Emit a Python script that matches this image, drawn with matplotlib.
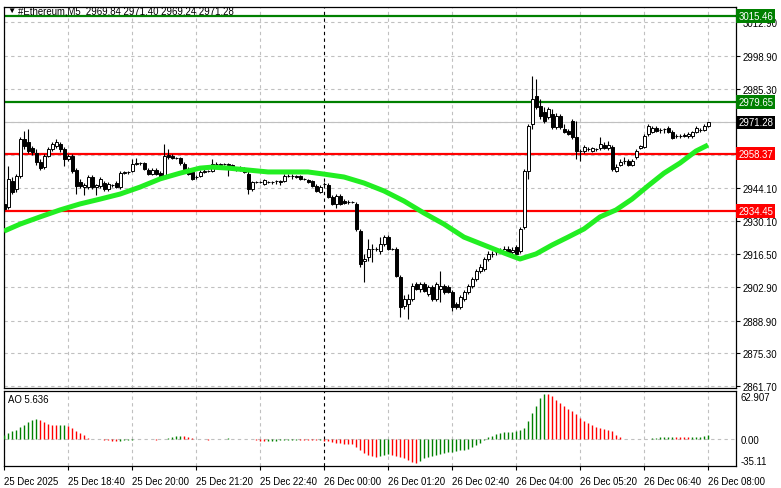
import numpy as np
import matplotlib
matplotlib.use("Agg")
import matplotlib.pyplot as plt

#========= Fonts ===========
plt.rcParams['font.family'] = ['Liberation Sans', 'DejaVu Sans']
FS = 6.9

#========= Data (5 min candles, #Ethereum M5) ===========
opens = [
2937.4, 2936.1, 2946.9, 2943.6, 2949.0, 2964.4, 2963.1, 2960.6, 2958.6, 2954.8,
2952.7, 2957.3, 2960.2, 2961.5, 2962.3, 2960.2, 2956.1, 2957.3, 2951.5, 2946.5,
2944.4, 2944.4, 2948.6, 2944.4, 2944.9, 2946.1, 2943.6, 2945.3, 2946.1, 2944.4,
2950.2, 2950.7, 2951.1, 2954.0, 2954.4, 2954.4, 2951.5, 2949.8, 2951.5, 2950.2,
2948.6, 2957.7, 2957.3, 2956.5, 2956.5, 2954.0, 2951.9, 2950.7, 2948.6, 2949.0,
2950.7, 2951.1, 2951.1, 2954.0, 2953.6, 2954.0, 2954.0, 2953.6, 2951.9, 2952.3,
2951.9, 2949.8, 2943.6, 2946.5, 2946.5, 2945.7, 2946.5, 2946.5, 2946.9, 2946.9,
2946.9, 2949.0, 2949.0, 2949.0, 2949.0, 2947.8, 2947.3, 2946.9, 2944.9, 2942.3,
2945.7, 2945.3, 2940.3, 2937.4, 2940.7, 2938.6, 2938.2, 2938.2, 2937.4, 2926.1,
2913.7, 2915.3, 2918.6, 2918.6, 2917.8, 2920.7, 2923.6, 2918.6, 2918.6, 2907.0,
2894.9, 2895.8, 2897.9, 2904.1, 2902.0, 2904.1, 2899.9, 2902.9, 2897.9, 2902.0,
2903.3, 2902.9, 2900.8, 2895.8, 2894.5, 2897.9, 2900.8, 2903.3, 2906.2, 2909.5,
2910.3, 2914.5, 2916.6, 2917.4, 2917.8, 2917.8, 2918.6, 2917.4, 2919.5, 2917.8,
2927.8, 2951.1, 2970.6, 2982.3, 2978.1, 2975.6, 2973.5, 2974.8, 2969.4, 2973.9,
2968.5, 2967.7, 2971.9, 2965.2, 2959.4, 2959.4, 2960.2, 2959.4, 2960.2, 2960.6,
2961.9, 2960.6, 2961.1, 2951.1, 2953.6, 2955.2, 2955.2, 2953.6, 2956.9, 2960.6,
2961.1, 2966.5, 2967.3, 2969.0, 2968.1, 2968.5, 2969.0, 2967.3, 2965.6, 2965.6,
2966.0, 2965.6, 2965.6, 2967.3, 2968.1, 2968.1, 2969.84]

highs = [
2939.4, 2953.2, 2948.6, 2949.8, 2965.2, 2967.7, 2968.5, 2961.5, 2960.2, 2956.1,
2958.2, 2961.1, 2963.1, 2964.4, 2963.1, 2961.1, 2958.2, 2958.2, 2952.3, 2947.8,
2946.1, 2949.4, 2949.4, 2945.7, 2948.6, 2946.9, 2946.5, 2945.7, 2946.9, 2951.1,
2951.1, 2951.1, 2956.1, 2956.5, 2954.8, 2954.8, 2952.3, 2952.3, 2952.3, 2951.1,
2962.3, 2960.2, 2958.2, 2956.9, 2956.9, 2954.8, 2952.7, 2951.5, 2949.4, 2951.5,
2951.9, 2951.5, 2956.1, 2954.8, 2954.4, 2954.4, 2954.4, 2954.0, 2952.7, 2953.2,
2952.7, 2951.1, 2946.9, 2946.9, 2946.9, 2947.8, 2946.9, 2946.9, 2947.3, 2947.3,
2949.8, 2949.8, 2949.8, 2949.4, 2949.4, 2948.2, 2947.8, 2947.3, 2945.7, 2945.3,
2946.5, 2946.1, 2941.1, 2941.5, 2941.5, 2939.4, 2939.0, 2938.6, 2938.2, 2927.0,
2916.6, 2922.8, 2920.7, 2919.5, 2923.6, 2924.5, 2924.5, 2919.1, 2919.5, 2907.8,
2899.5, 2899.9, 2904.5, 2904.9, 2904.9, 2904.9, 2903.7, 2903.7, 2904.9, 2909.5,
2904.1, 2903.7, 2901.6, 2896.6, 2899.5, 2901.6, 2904.1, 2907.0, 2910.3, 2912.4,
2915.3, 2917.8, 2917.8, 2918.7, 2919.1, 2919.9, 2919.9, 2919.5, 2920.3, 2927.8,
2951.9, 2970.6, 2990.6, 2989.3, 2981.0, 2977.7, 2977.7, 2976.9, 2975.2, 2974.8,
2970.6, 2968.5, 2972.7, 2971.9, 2960.2, 2961.9, 2961.1, 2961.1, 2960.6, 2965.2,
2963.1, 2963.5, 2961.9, 2954.0, 2956.1, 2956.9, 2956.1, 2956.1, 2960.2, 2961.9,
2966.5, 2970.6, 2969.8, 2969.8, 2969.0, 2969.0, 2969.8, 2968.1, 2966.5, 2966.5,
2966.9, 2967.3, 2967.7, 2969.8, 2969.0, 2970.6, 2971.40]

lows = [
2933.6, 2935.3, 2941.5, 2942.3, 2948.2, 2960.2, 2958.6, 2957.7, 2953.6, 2951.5,
2951.9, 2956.9, 2959.4, 2960.6, 2959.0, 2953.2, 2955.2, 2950.2, 2941.5, 2944.0,
2941.1, 2943.6, 2943.6, 2941.1, 2944.0, 2942.8, 2942.8, 2944.4, 2944.0, 2943.6,
2949.8, 2949.8, 2950.7, 2953.6, 2953.6, 2951.5, 2949.4, 2949.4, 2949.4, 2947.8,
2948.2, 2956.1, 2956.1, 2956.1, 2953.6, 2951.5, 2949.4, 2947.3, 2947.8, 2948.6,
2950.2, 2950.7, 2950.7, 2953.6, 2953.2, 2953.6, 2949.0, 2951.5, 2951.1, 2951.1,
2950.2, 2941.5, 2942.8, 2946.1, 2946.1, 2945.3, 2946.1, 2945.7, 2945.7, 2945.3,
2946.5, 2948.6, 2947.8, 2948.2, 2947.3, 2947.3, 2946.1, 2944.4, 2942.3, 2941.9,
2944.9, 2939.8, 2936.9, 2935.7, 2936.9, 2937.4, 2937.4, 2937.8, 2926.1, 2911.2,
2905.0, 2913.7, 2913.2, 2917.8, 2916.6, 2919.9, 2918.2, 2918.2, 2907.0, 2890.4,
2893.7, 2889.5, 2897.0, 2901.6, 2900.8, 2900.8, 2899.1, 2897.0, 2897.0, 2896.6,
2899.9, 2900.4, 2892.9, 2893.7, 2893.7, 2897.0, 2899.9, 2902.4, 2905.3, 2908.7,
2909.5, 2913.7, 2915.3, 2916.2, 2917.0, 2917.0, 2917.0, 2916.6, 2916.2, 2917.0,
2927.0, 2947.8, 2968.5, 2976.9, 2972.7, 2971.0, 2972.7, 2968.5, 2968.5, 2968.5,
2966.9, 2966.0, 2964.4, 2956.1, 2955.2, 2958.6, 2959.4, 2959.0, 2959.4, 2959.8,
2960.2, 2959.8, 2951.1, 2950.7, 2953.2, 2954.0, 2953.2, 2953.2, 2956.1, 2960.2,
2960.6, 2965.6, 2966.9, 2967.3, 2966.9, 2966.9, 2966.9, 2964.4, 2964.8, 2964.8,
2965.2, 2964.8, 2964.8, 2966.9, 2967.3, 2967.7, 2969.24]

closes = [
2935.3, 2947.8, 2942.3, 2949.0, 2964.4, 2961.5, 2959.4, 2959.0, 2954.8, 2952.3,
2957.3, 2960.2, 2962.3, 2963.1, 2960.2, 2956.1, 2957.3, 2951.1, 2944.9, 2944.9,
2945.3, 2948.6, 2944.4, 2945.3, 2947.8, 2943.6, 2945.7, 2945.2, 2944.4, 2950.2,
2950.7, 2950.6, 2954.0, 2954.4, 2954.3, 2951.9, 2949.8, 2951.5, 2949.8, 2948.6,
2957.3, 2956.9, 2956.5, 2956.4, 2954.4, 2951.9, 2949.8, 2947.8, 2948.5, 2950.7,
2951.1, 2951.0, 2954.0, 2953.9, 2954.0, 2953.9, 2953.6, 2951.9, 2952.3, 2951.9,
2950.7, 2943.6, 2946.5, 2946.4, 2946.4, 2947.3, 2946.4, 2946.4, 2946.8, 2946.5,
2949.0, 2948.9, 2948.9, 2948.6, 2947.8, 2947.7, 2946.5, 2944.9, 2942.8, 2944.4,
2945.6, 2940.3, 2937.4, 2940.7, 2937.4, 2937.8, 2938.1, 2938.1, 2927.0, 2912.4,
2914.5, 2918.6, 2918.5, 2918.5, 2920.7, 2923.6, 2918.6, 2918.5, 2907.4, 2894.5,
2897.9, 2897.8, 2903.3, 2902.0, 2904.1, 2901.2, 2902.9, 2897.9, 2904.1, 2903.3,
2900.8, 2900.8, 2894.5, 2894.5, 2898.7, 2900.8, 2903.3, 2906.2, 2909.5, 2911.2,
2914.5, 2916.6, 2916.5, 2917.3, 2918.2, 2918.6, 2917.4, 2918.2, 2916.6, 2927.0,
2951.1, 2969.8, 2981.0, 2977.7, 2974.0, 2971.9, 2976.9, 2969.4, 2973.9, 2969.4,
2967.3, 2966.5, 2965.2, 2959.4, 2959.3, 2961.1, 2960.1, 2960.6, 2960.1, 2962.3,
2960.6, 2961.9, 2951.9, 2952.7, 2954.8, 2955.1, 2953.6, 2955.2, 2959.4, 2961.5,
2965.6, 2969.8, 2969.0, 2967.7, 2968.0, 2968.4, 2967.3, 2964.8, 2965.5, 2965.5,
2965.6, 2966.5, 2967.3, 2969.0, 2968.0, 2969.8, 2971.28]

# moving average (bar index, value)
ma_idx = [0, 4, 9, 14, 19, 24, 29, 34, 39, 44, 49, 52, 56, 61, 66, 72, 76, 80, 85, 90,
          95, 100, 105, 110, 115, 120, 125, 129, 133, 137, 141, 145, 149, 153, 157, 161,
          165, 169, 173, 176]
ma_val = [2926.1, 2929.0, 2932.0, 2934.9, 2937.4, 2939.4, 2941.5, 2944.4, 2947.8, 2950.2,
          2952.3, 2952.7, 2952.3, 2951.5, 2950.7, 2950.7, 2950.7, 2949.8, 2948.6, 2946.1,
          2942.8, 2938.6, 2933.6, 2929.0, 2923.6, 2920.3, 2917.0, 2914.5, 2916.6, 2920.3,
          2923.6, 2927.0, 2932.0, 2934.9, 2939.4, 2944.9, 2950.2, 2954.4, 2959.4, 2961.9]

# Awesome Oscillator
ao = [
6.1, 9.5, 11.8, 13.2, 17.0, 20.3, 23.7, 26.0, 27.4, 26.0,
23.7, 21.3, 20.3, 19.9, 20.0, 20.2, 18.0, 15.6, 11.8, 9.5,
6.1, 2.4, 1.0, 0.6, 0.2, -0.8, -1.4, -1.9, -2.1, -1.7,
-1.1, -0.8, -0.3, 0.2, 0.4, 0.3, 0.2, 0.0, -0.3, 0.3,
1.1, 2.4, 3.3, 4.3, 5.2, 4.3, 2.8, 1.4, 0.5, 0.2,
0.0, -0.2, 0.0, 0.2, 0.5, 0.8, 1.3, 1.0, 0.8, 0.5,
0.3, 0.2, 0.0, -0.8, -1.7, -2.6, -2.4, -1.9, -1.5, -1.1,
-0.8, -0.5, -0.3, -0.2, -0.3, -0.4, -0.5, -0.8, -1.2, -1.0,
-1.5, -2.4, -3.3, -4.3, -5.2, -5.7, -6.1, -6.6, -10.4, -15.1,
-18.4, -21.3, -23.2, -24.6, -23.2, -21.3, -19.9, -21.3, -22.2, -24.6,
-25.5, -28.4, -30.7, -33.0, -29.8, -26.0, -23.7, -22.2, -21.3, -19.9,
-18.4, -17.5, -16.6, -15.6, -15.1, -14.2, -12.8, -10.4, -8.0, -4.7,
-1.4, 2.8, 5.2, 7.1, 8.5, 9.9, 10.0, 10.4, 11.8, 12.3,
15.6, 25.1, 36.9, 46.4, 57.3, 62.907, 62.4, 59.1, 54.4, 49.7,
46.4, 41.6, 39.3, 35.5, 29.8, 25.1, 22.7, 19.4, 16.6, 15.6,
14.7, 12.3, 11.8, 6.1, 2.8, 0.5, 0.3, 0.4, 0.5, 0.3,
0.2, 0.1, 1.4, 2.4, 2.8, 3.0, 3.3, 3.4, 3.0, 2.9,
2.8, 2.7, 3.3, 3.4, 3.8, 4.7, 5.636]

time_labels = ["25 Dec 2025", "25 Dec 18:40", "25 Dec 20:00", "25 Dec 21:20",
               "25 Dec 22:40", "26 Dec 00:00", "26 Dec 01:20", "26 Dec 02:40",
               "26 Dec 04:00", "26 Dec 05:20", "26 Dec 06:40", "26 Dec 08:00"]
label_every = 16   # bars between time labels (80 min)
day_break = 80     # bar index of 26 Dec 00:00

price_ticks = [3012.90, 2998.90, 2985.30, 2971.50, 2957.70, 2944.10, 2930.10,
               2916.50, 2902.90, 2888.90, 2875.30, 2861.70]
hidden_ticks = [2971.50, 2957.70]   # covered by the price boxes

levels = [(3015.46, '#008000'), (2979.65, '#008000'), (2958.37, '#ff0000'), (2934.45, '#ff0000')]
last_price = 2971.28
ao_labels = [62.907, 0.00, -35.11]

#========= Figure setup ===========
W, H = 781, 489
fig = plt.figure(figsize=(W / 100, H / 100), dpi=100)
fig.patch.set_facecolor('white')

def frac(x0, y0, x1, y1):
    return [x0 / W, 1 - y1 / H, (x1 - x0) / W, (y1 - y0) / H]

ax = fig.add_axes(frac(4, 8, 736, 389))
ax2 = fig.add_axes(frac(4, 392, 736, 467))

n = len(closes)
xs = np.arange(n)
O = np.array(opens); Hh = np.array(highs); L = np.array(lows); C = np.array(closes)

grid_kw = dict(color='#c0c0c0', lw=0.8, ls=(0, (3, 3)), zorder=0)
tick_pos = [i * label_every for i in range(len(time_labels))]

#========= Main price panel ===========
for p in price_ticks:
    ax.axhline(p, **grid_kw)
for t in tick_pos:
    if t != day_break:
        ax.axvline(t, **grid_kw)
        ax2.axvline(t, **grid_kw)
ax.axvline(day_break, color='black', lw=0.8, ls=(0, (3, 3)), zorder=1)
ax2.axvline(day_break, color='black', lw=0.8, ls=(0, (3, 3)), zorder=1)

ax.axhline(last_price, color='#c0c0c0', lw=0.8, zorder=1)

for p, col in levels:
    ax.axhline(p, color=col, lw=1.6, zorder=2)

# candles
ax.vlines(xs, L, Hh, color='black', lw=0.8, zorder=4)
bull = C >= O
body_lo = np.minimum(O, C)
body_h = np.maximum(np.abs(C - O), 0.25)
ax.bar(xs[bull], body_h[bull], bottom=body_lo[bull], width=0.75,
       facecolor='white', edgecolor='black', lw=0.7, zorder=5)
ax.bar(xs[~bull], body_h[~bull], bottom=body_lo[~bull], width=0.75,
       facecolor='black', edgecolor='black', lw=0.7, zorder=5)

# moving average
ax.plot(ma_idx, ma_val, color='#22ee22', lw=3.6, solid_capstyle='butt', zorder=6)

ax.set_xlim(0, 183)
ax.set_ylim(2860.85, 3019.3)
ax.yaxis.tick_right()
ax.set_yticks(price_ticks)
ax.set_yticklabels(['' if p in hidden_ticks else '%.2f' % p for p in price_ticks])
ax.tick_params(axis='y', direction='out', length=3, width=0.8, pad=2, labelsize=FS)
ax.set_xticks([])
for s in ax.spines.values():
    s.set_linewidth(0.9)

# price boxes on the axis
tr = ax.get_yaxis_transform()
for p, col in levels:
    ax.text(1.003, p, '%.2f' % p, transform=tr, ha='left', va='center', fontsize=FS,
            color='white', clip_on=False, zorder=10,
            bbox=dict(boxstyle='square,pad=0.2', fc=col, ec='none'))
ax.text(1.003, last_price, '%.2f' % last_price, transform=tr, ha='left', va='center',
        fontsize=FS, color='white', clip_on=False, zorder=10,
        bbox=dict(boxstyle='square,pad=0.2', fc='black', ec='none'))

# header
fig.text(7 / W, 1 - 11 / H, '\u25bc', fontsize=6, ha='left', va='center', color='black')
fig.text(18 / W, 1 - 11 / H, '#Ethereum,M5  %.2f %.2f %.2f %.2f' % (opens[-1], highs[-1], lows[-1], closes[-1]),
         fontsize=FS, ha='left', va='center', color='black')

#========= AO panel ===========
ao = np.array(ao)
ao_col = ['#008000'] + ['#008000' if ao[i] > ao[i - 1] else '#ff0000' for i in range(1, n)]
ax2.axhline(0, **grid_kw)
ax2.vlines(xs, 0, ao, colors=ao_col, lw=1.0, zorder=3)
ax2.set_xlim(0, 183)
ax2.set_ylim(-36.5, 66.5)
ax2.set_yticks([])
ax2.text(1.006, 0.92, '%.3f' % ao_labels[0], transform=ax2.transAxes, ha='left', va='center', fontsize=FS)
ax2.text(1.006, 0.347, '%.2f' % ao_labels[1], transform=ax2.transAxes, ha='left', va='center', fontsize=FS)
ax2.text(1.006, 0.067, '%.2f' % ao_labels[2], transform=ax2.transAxes, ha='left', va='center', fontsize=FS)
ax2.text(0.006, 0.89, 'AO %.3f' % ao[-1], transform=ax2.transAxes, fontsize=FS, ha='left', va='center')

ax2.set_xticks(tick_pos)
ax2.set_xticklabels(time_labels, ha='left')
ax2.tick_params(axis='x', direction='out', length=3, width=0.8, pad=4, labelsize=FS)
for s in ax2.spines.values():
    s.set_linewidth(0.9)

fig.savefig('out.png', dpi=100)
